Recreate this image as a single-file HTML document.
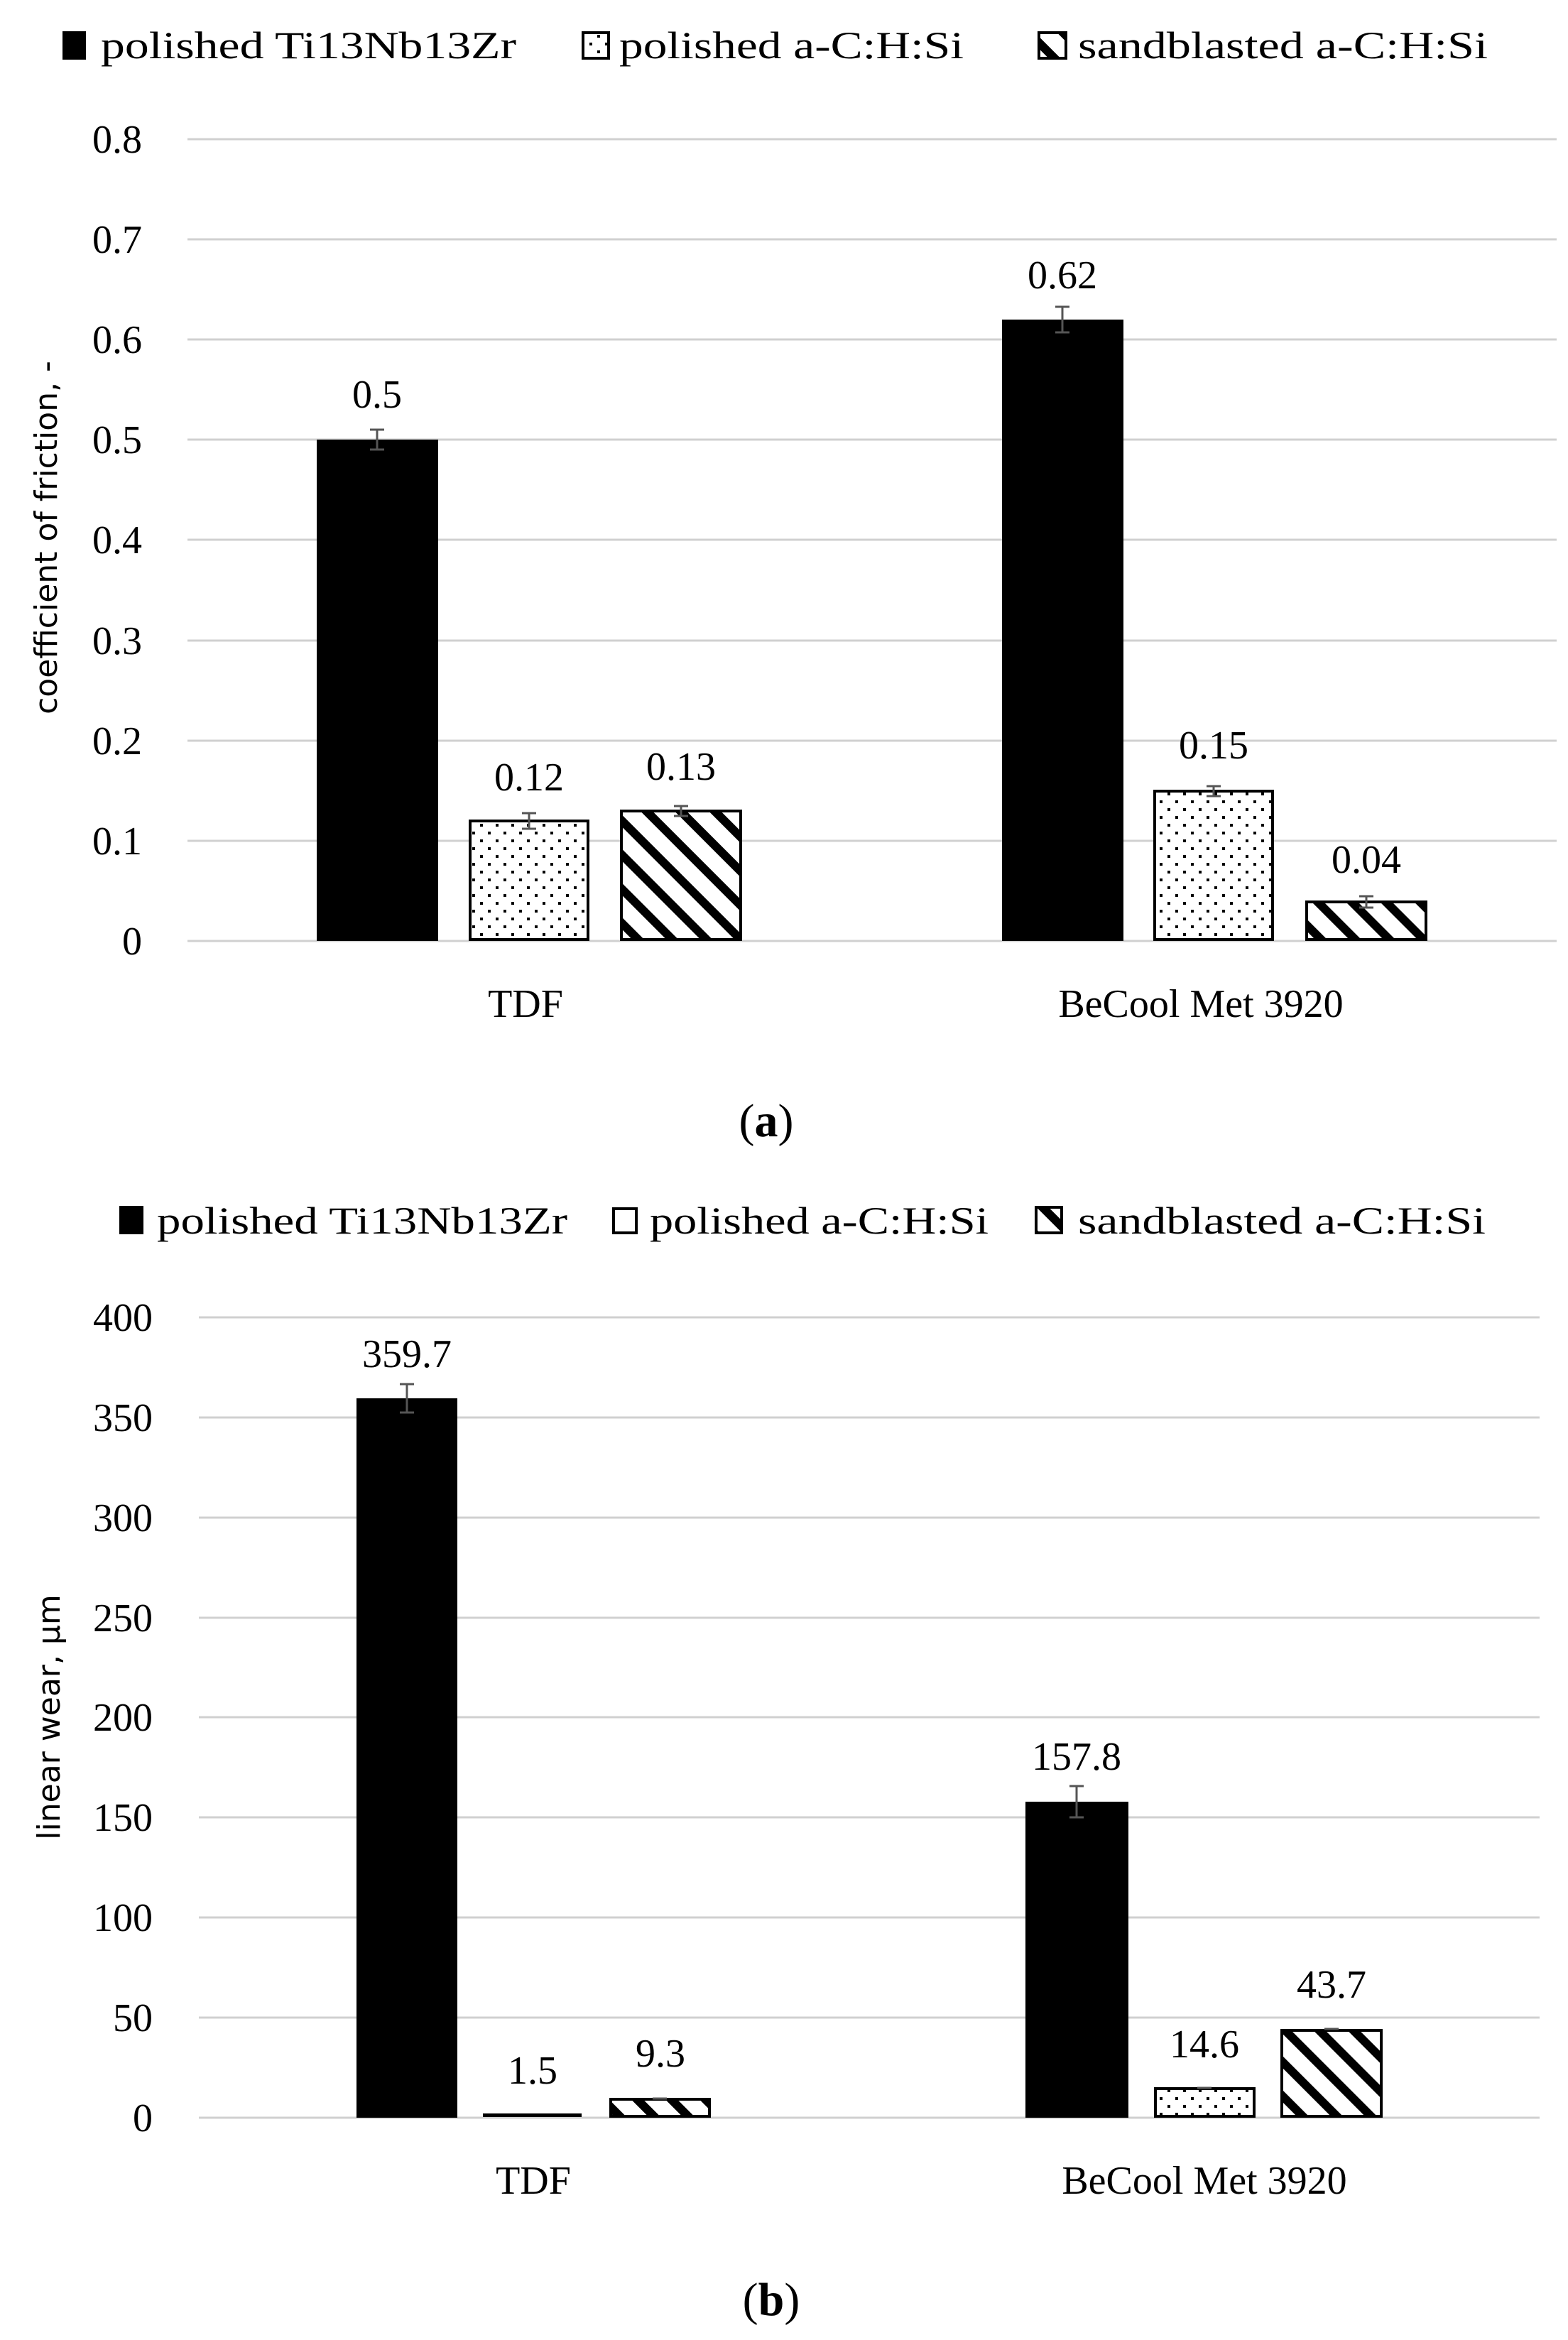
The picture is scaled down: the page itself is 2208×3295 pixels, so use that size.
<!DOCTYPE html>
<html><head><meta charset="utf-8"><style>html,body{margin:0;padding:0;background:#fff}svg{display:block}</style></head>
<body>
<svg width="2208" height="3295" viewBox="0 0 2208 3295" xmlns="http://www.w3.org/2000/svg" font-family="Liberation Serif, serif">
<defs>
<pattern id="dots" width="22" height="22" patternUnits="userSpaceOnUse">
<rect width="22" height="22" fill="#fff"/><rect x="5" y="5" width="4" height="4" fill="#000"/><rect x="16" y="16" width="4" height="4" fill="#000"/>
</pattern>
<pattern id="hatch" width="34" height="34" patternUnits="userSpaceOnUse" patternTransform="rotate(-45)">
<rect width="34" height="34" fill="#fff"/><rect x="0" y="0" width="12" height="34" fill="#000"/>
</pattern>
</defs>

<g font-size="54">
<rect x="88" y="44" width="33" height="40" fill="#000"/>
<text x="142" y="82" textLength="585" lengthAdjust="spacingAndGlyphs">polished Ti13Nb13Zr</text>
<rect x="821" y="46" width="36" height="36" fill="url(#dots)" stroke="#000" stroke-width="4"/>
<text x="872" y="82" textLength="485" lengthAdjust="spacingAndGlyphs">polished a-C:H:Si</text>
<rect x="1463" y="46" width="38" height="36" fill="url(#hatch)" stroke="#000" stroke-width="4"/>
<text x="1518" y="82" textLength="577" lengthAdjust="spacingAndGlyphs">sandblasted a-C:H:Si</text>
</g>

<g stroke="#d0d0d0" stroke-width="3">
<line x1="264" x2="2192" y1="196" y2="196"/><line x1="264" x2="2192" y1="337" y2="337"/>
<line x1="264" x2="2192" y1="478" y2="478"/><line x1="264" x2="2192" y1="619" y2="619"/>
<line x1="264" x2="2192" y1="760" y2="760"/><line x1="264" x2="2192" y1="902" y2="902"/>
<line x1="264" x2="2192" y1="1043" y2="1043"/><line x1="264" x2="2192" y1="1184" y2="1184"/>
<line x1="264" x2="2192" y1="1325" y2="1325"/>
</g>
<g font-size="56" text-anchor="end">
<text x="200" y="215">0.8</text><text x="200" y="356">0.7</text><text x="200" y="497">0.6</text>
<text x="200" y="638">0.5</text><text x="200" y="779">0.4</text><text x="200" y="921">0.3</text>
<text x="200" y="1062">0.2</text><text x="200" y="1203">0.1</text><text x="200" y="1344">0</text>
</g>
<text transform="translate(80,757) rotate(-90)" font-family="DejaVu Sans, sans-serif" font-size="44" text-anchor="middle">coefficient of friction, -</text>

<rect x="446" y="619" width="171" height="706" fill="#000"/>
<rect x="662" y="1156" width="166" height="167" fill="url(#dots)" stroke="#000" stroke-width="4"/>
<rect x="875" y="1142" width="168" height="181" fill="url(#hatch)" stroke="#000" stroke-width="4"/>
<rect x="1411" y="450" width="171" height="875" fill="#000"/>
<rect x="1626" y="1114" width="166" height="209" fill="url(#dots)" stroke="#000" stroke-width="4"/>
<rect x="1840" y="1270" width="168" height="53" fill="url(#hatch)" stroke="#000" stroke-width="4"/>
<g stroke="#555" stroke-width="3">
<line x1="531" x2="531" y1="605" y2="633"/><line x1="521" x2="541" y1="605" y2="605"/><line x1="521" x2="541" y1="633" y2="633"/>
<line x1="745" x2="745" y1="1145" y2="1167"/><line x1="735" x2="755" y1="1145" y2="1145"/><line x1="735" x2="755" y1="1167" y2="1167"/>
<line x1="959" x2="959" y1="1135" y2="1149"/><line x1="949" x2="969" y1="1135" y2="1135"/><line x1="949" x2="969" y1="1149" y2="1149"/>
<line x1="1496" x2="1496" y1="432" y2="468"/><line x1="1486" x2="1506" y1="432" y2="432"/><line x1="1486" x2="1506" y1="468" y2="468"/>
<line x1="1709" x2="1709" y1="1107" y2="1121"/><line x1="1699" x2="1719" y1="1107" y2="1107"/><line x1="1699" x2="1719" y1="1121" y2="1121"/>
<line x1="1924" x2="1924" y1="1262" y2="1278"/><line x1="1914" x2="1934" y1="1262" y2="1262"/><line x1="1914" x2="1934" y1="1278" y2="1278"/>
</g>
<g font-size="56" text-anchor="middle">
<text x="531" y="574">0.5</text><text x="1496" y="406">0.62</text>
<text x="745" y="1113">0.12</text><text x="959" y="1098">0.13</text>
<text x="1709" y="1068">0.15</text><text x="1924" y="1229">0.04</text>
<text x="740" y="1432">TDF</text><text x="1691" y="1432">BeCool Met 3920</text>
<text x="1079" y="1600" font-size="66">(<tspan font-weight="bold">a</tspan>)</text>
</g>

<g font-size="54">
<rect x="168" y="1698" width="34" height="40" fill="#000"/>
<text x="221" y="1737" textLength="578" lengthAdjust="spacingAndGlyphs">polished Ti13Nb13Zr</text>
<rect x="864" y="1702" width="32" height="34" fill="#fff" stroke="#000" stroke-width="4"/>
<text x="915" y="1737" textLength="477" lengthAdjust="spacingAndGlyphs">polished a-C:H:Si</text>
<rect x="1459" y="1700" width="36" height="36" fill="url(#hatch)" stroke="#000" stroke-width="4"/>
<text x="1518" y="1737" textLength="574" lengthAdjust="spacingAndGlyphs">sandblasted a-C:H:Si</text>
</g>

<g stroke="#d0d0d0" stroke-width="3">
<line x1="280" x2="2168" y1="1855" y2="1855"/><line x1="280" x2="2168" y1="1996" y2="1996"/>
<line x1="280" x2="2168" y1="2137" y2="2137"/><line x1="280" x2="2168" y1="2278" y2="2278"/>
<line x1="280" x2="2168" y1="2418" y2="2418"/><line x1="280" x2="2168" y1="2559" y2="2559"/>
<line x1="280" x2="2168" y1="2700" y2="2700"/><line x1="280" x2="2168" y1="2841" y2="2841"/>
<line x1="280" x2="2168" y1="2982" y2="2982"/>
</g>
<g font-size="56" text-anchor="end">
<text x="215" y="1874">400</text><text x="215" y="2015">350</text><text x="215" y="2156">300</text>
<text x="215" y="2297">250</text><text x="215" y="2437">200</text><text x="215" y="2578">150</text>
<text x="215" y="2719">100</text><text x="215" y="2860">50</text><text x="215" y="3001">0</text>
</g>
<text transform="translate(84,2418) rotate(-90)" font-family="DejaVu Sans, sans-serif" font-size="44" text-anchor="middle">linear wear, µm</text>

<rect x="502" y="1969" width="142" height="1013" fill="#000"/>
<rect x="680" y="2976" width="139" height="5" fill="#000"/>
<rect x="860" y="2956" width="139" height="24" fill="url(#hatch)" stroke="#000" stroke-width="4"/>
<rect x="1444" y="2537" width="145" height="445" fill="#000"/>
<rect x="1627" y="2941" width="139" height="39" fill="url(#dots)" stroke="#000" stroke-width="4"/>
<rect x="1805" y="2859" width="140" height="121" fill="url(#hatch)" stroke="#000" stroke-width="4"/>
<g stroke="#555" stroke-width="3">
<line x1="573" x2="573" y1="1949" y2="1989"/><line x1="563" x2="583" y1="1949" y2="1949"/><line x1="563" x2="583" y1="1989" y2="1989"/>
<line x1="1516" x2="1516" y1="2515" y2="2559"/><line x1="1506" x2="1526" y1="2515" y2="2515"/><line x1="1506" x2="1526" y1="2559" y2="2559"/>
<line x1="919" x2="939" y1="2955" y2="2955"/><line x1="1686" x2="1706" y1="2940" y2="2940"/><line x1="1865" x2="1885" y1="2857" y2="2857"/>
</g>
<g font-size="56" text-anchor="middle">
<text x="573" y="1925">359.7</text><text x="1516" y="2492">157.8</text>
<text x="750" y="2934">1.5</text><text x="930" y="2910">9.3</text>
<text x="1696" y="2897">14.6</text><text x="1875" y="2813">43.7</text>
<text x="751" y="3089">TDF</text><text x="1696" y="3089">BeCool Met 3920</text>
<text x="1086" y="3260" font-size="66">(<tspan font-weight="bold">b</tspan>)</text>
</g>
</svg>
</body></html>
